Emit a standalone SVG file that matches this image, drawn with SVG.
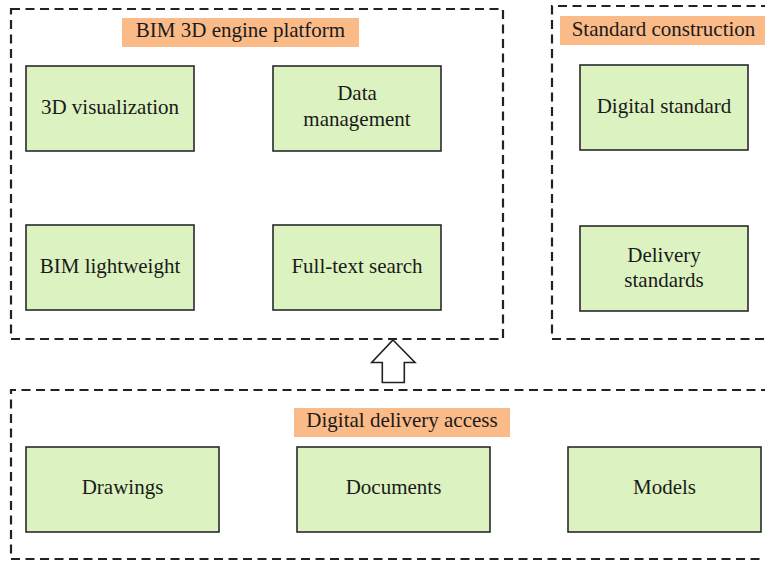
<svg xmlns="http://www.w3.org/2000/svg" width="765" height="561" viewBox="0 0 765 561" font-family="'Liberation Serif', 'Times New Roman', serif">
  <style>
    .frame { fill: none; stroke: #222; stroke-width: 2.2; stroke-dasharray: 9 5.5; }
    .tag { fill: #FBBB88; }
    .box { fill: #DCF3C1; stroke: #2a2a2a; stroke-width: 1.6; }
    .lbl { font-family: "Liberation Serif", "Times New Roman", serif; font-size: 21px; fill: #1a1a1a; text-anchor: middle; }
  </style>

  <!-- group frames -->
  <g id="frames">
    <rect class="frame" x="11" y="9" width="492" height="330"/>
    <path class="frame" d="M770 6 H552 V339 H770"/>
    <path class="frame" d="M770 390 H11 V559 H770"/>
  </g>

  <!-- group titles -->
  <g id="title-engine">
    <rect class="tag" x="122" y="18" width="237" height="29"/>
    <text class="lbl" x="240.5" y="37">BIM 3D engine platform</text>
  </g>
  <g id="title-standard">
    <rect class="tag" x="560" y="16" width="205" height="29"/>
    <text class="lbl" x="663.5" y="36">Standard construction</text>
  </g>
  <g id="title-delivery">
    <rect class="tag" x="294" y="408" width="216" height="29"/>
    <text class="lbl" x="402" y="427">Digital delivery access</text>
  </g>

  <!-- BIM 3D engine platform -->
  <g id="visualization-3d">
    <rect class="box" x="26" y="66" width="168" height="85"/>
    <text class="lbl" x="110" y="114">3D visualization</text>
  </g>
  <g id="data-management">
    <rect class="box" x="273" y="66" width="168" height="85"/>
    <text class="lbl" x="357" y="100">Data</text>
    <text class="lbl" x="357" y="126">management</text>
  </g>
  <g id="bim-lightweight">
    <rect class="box" x="26" y="225" width="168" height="85"/>
    <text class="lbl" x="110" y="273">BIM lightweight</text>
  </g>
  <g id="full-text-search">
    <rect class="box" x="273" y="225" width="168" height="85"/>
    <text class="lbl" x="357" y="273">Full-text search</text>
  </g>

  <!-- Standard construction -->
  <g id="digital-standard">
    <rect class="box" x="580" y="65" width="168" height="85"/>
    <text class="lbl" x="664" y="113">Digital standard</text>
  </g>
  <g id="delivery-standards">
    <rect class="box" x="580" y="226" width="168" height="85"/>
    <text class="lbl" x="664" y="262">Delivery</text>
    <text class="lbl" x="664" y="287">standards</text>
  </g>

  <!-- Digital delivery access -->
  <g id="drawings">
    <rect class="box" x="26" y="447" width="193" height="85"/>
    <text class="lbl" x="122.5" y="494">Drawings</text>
  </g>
  <g id="documents">
    <rect class="box" x="297" y="447" width="193" height="85"/>
    <text class="lbl" x="393.5" y="494">Documents</text>
  </g>
  <g id="models">
    <rect class="box" x="568" y="447" width="193" height="85"/>
    <text class="lbl" x="664.5" y="494">Models</text>
  </g>

  <!-- connectors -->
  <g id="connectors">
    <path d="M393 340 L415 362.5 H404.3 V382.5 H382.3 V362.5 H371.7 Z" fill="#fff" stroke="#222" stroke-width="1.6" stroke-linejoin="miter"/>
  </g>
</svg>
